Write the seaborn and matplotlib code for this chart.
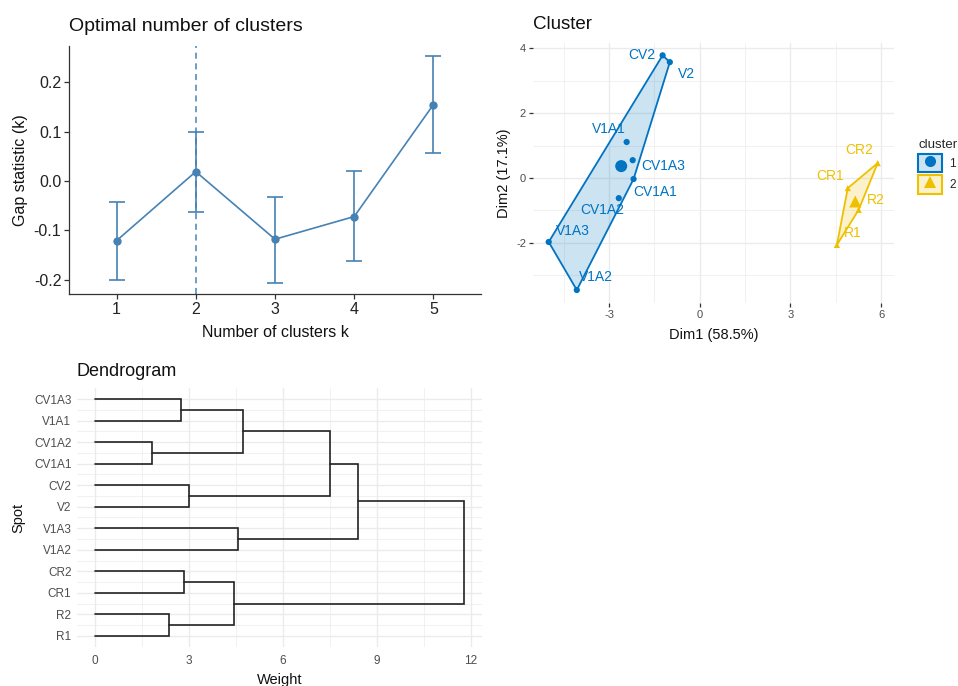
import numpy as np
import pandas as pd
import seaborn as sns
import matplotlib
matplotlib.use("Agg")
import matplotlib.pyplot as plt
from matplotlib.patches import Polygon, Patch
from matplotlib.lines import Line2D
from matplotlib.legend_handler import HandlerTuple

# ---------------- data ----------------
# Gap statistic panel
k_values = [1, 2, 3, 4, 5]
gap_values = [-0.121, 0.019, -0.118, -0.072, 0.155]
gap_lower = [-0.200, -0.062, -0.207, -0.163, 0.057]
gap_upper = [-0.043, 0.099, -0.032, 0.020, 0.253]
optimal_k = 2
gap_yticks = [-0.2, -0.1, 0.0, 0.1, 0.2]

# Cluster panel (PCA coordinates)
spots = ["CV2", "V2", "V1A1", "CV1A3", "CV1A1", "CV1A2", "V1A3", "V1A2",
         "CR2", "CR1", "R2", "R1"]
dim1 = [-1.23, -0.99, -2.42, -2.22, -2.19, -2.68, -5.00, -4.07,
        5.89, 4.90, 5.26, 4.54]
dim2 = [3.78, 3.57, 1.11, 0.55, -0.03, -0.62, -1.97, -3.45,
        0.46, -0.31, -0.98, -2.06]
cluster = ["1", "1", "1", "1", "1", "1", "1", "1", "2", "2", "2", "2"]
dim1_ticks = [-3, 0, 3, 6]
dim2_ticks = [-2, 0, 2, 4]

# Dendrogram panel
leaf_order = ["CV1A3", "V1A1", "CV1A2", "CV1A1", "CV2", "V2", "V1A3", "V1A2",
              "CR2", "CR1", "R2", "R1"]
merge_left = ["CV1A3", "CV1A2", "m1", "CV2", "m3", "V1A3", "m5", "CR2", "R2", "m8", "m7"]
merge_right = ["V1A1", "CV1A1", "m2", "V2", "m4", "V1A2", "m6", "CR1", "R1", "m9", "m10"]
merge_height = [2.73, 1.83, 4.71, 3.00, 7.49, 4.57, 8.39, 2.83, 2.37, 4.45, 11.77]
weight_ticks = [0, 3, 6, 9, 12]

# ---------------- style ----------------
sns.set_theme(style="white")
plt.rcParams["font.family"] = ["Liberation Sans", "DejaVu Sans"]
plt.rcParams["axes.unicode_minus"] = False

GAP_COLOR = "#4682B4"
CL_COLORS = {"1": "#0073C2", "2": "#EFC000"}
CL_MARKERS = {"1": "o", "2": "^"}
GRID_MAJ = "#EBEBEB"
TICK_TXT = "#4D4D4D"

# label offsets in pixels (dx, dy) relative to each point
label_offsets = {
    "CV2": (-21, 0), "V2": (17, -12), "V1A1": (-18, 13), "CV1A3": (30, -6),
    "CV1A1": (22, -13), "CV1A2": (-17, -12), "V1A3": (24, 11), "V1A2": (19, 13),
    "CR2": (-18, 13), "CR1": (-18, 12), "R2": (17, 10), "R1": (16, 12),
}

W, H = 958, 686
fig = plt.figure(figsize=(W / 100, H / 100), dpi=100)
fig.patch.set_facecolor("white")


def ax_px(l, t, r, b):
    return fig.add_axes([l / W, 1 - b / H, (r - l) / W, (b - t) / H])


def minimal_grid(ax, xmaj, xmin, ymaj, ymin):
    for v in xmaj:
        ax.axvline(v, color=GRID_MAJ, lw=1.0, zorder=0)
    for v in xmin:
        ax.axvline(v, color=GRID_MAJ, lw=0.5, zorder=0)
    for v in ymaj:
        ax.axhline(v, color=GRID_MAJ, lw=1.0, zorder=0)
    for v in ymin:
        ax.axhline(v, color=GRID_MAJ, lw=0.5, zorder=0)
    for s in ax.spines.values():
        s.set_visible(False)


# ---------------- panel 1: gap statistic ----------------
ax1 = ax_px(69, 46, 481, 294)
gdf = pd.DataFrame({"k": k_values, "gap": gap_values,
                    "lo": gap_lower, "hi": gap_upper})
ax1.axvline(optimal_k, color=GAP_COLOR, lw=1.1, ls=(0, (4, 3)), zorder=1)
ax1.errorbar(gdf["k"], gdf["gap"],
             yerr=[gdf["gap"] - gdf["lo"], gdf["hi"] - gdf["gap"]],
             fmt="none", ecolor=GAP_COLOR, elinewidth=1.2, capsize=5.8,
             capthick=1.2, zorder=2)
sns.lineplot(data=gdf, x="k", y="gap", ax=ax1, color=GAP_COLOR, lw=1.2,
             marker="o", markersize=6, markeredgewidth=0, zorder=3)
ax1.set_xlim(0.4, 5.6)
ax1.set_ylim(-0.229, 0.2736)
ax1.set_xticks(k_values)
ax1.set_xticklabels([str(k) for k in k_values])
ax1.set_yticks(gap_yticks)
ax1.set_yticklabels([f"{v:.1f}" for v in gap_yticks])
for s in ["top", "right"]:
    ax1.spines[s].set_visible(False)
for s in ["left", "bottom"]:
    ax1.spines[s].set_color("#333333")
    ax1.spines[s].set_linewidth(0.9)
ax1.tick_params(axis="both", length=3.5, width=0.9, color="#333333",
                labelsize=11.5, labelcolor="#222222", pad=2, direction="out",
                bottom=True, left=True)
ax1.set_xlabel("Number of clusters k", fontsize=11.5, color="#111111")
ax1.set_ylabel("Gap statistic (k)", fontsize=11.5, color="#111111")
ax1.xaxis.set_label_coords(0.5, -0.125)
ax1.yaxis.set_label_coords(-0.10, 0.5)
ax1.set_title("Optimal number of clusters", loc="left", fontsize=14,
              color="#111111", pad=11)

# ---------------- panel 2: cluster plot ----------------
ax2 = ax_px(533, 43, 894, 303)
xlo, xhi = -5.52, 6.43
ylo, yhi = -3.85, 4.16
minimal_grid(ax2, dim1_ticks, [-4.5, -1.5, 1.5, 4.5],
             dim2_ticks, [-3, -1, 1, 3])
cdf = pd.DataFrame({"spot": spots, "Dim1": dim1, "Dim2": dim2,
                    "cluster": cluster})


def convex_hull(pts):
    pts = sorted(set(pts))
    if len(pts) <= 2:
        return pts

    def cross(o, a, b):
        return (a[0] - o[0]) * (b[1] - o[1]) - (a[1] - o[1]) * (b[0] - o[0])
    lower, upper = [], []
    for p in pts:
        while len(lower) >= 2 and cross(lower[-2], lower[-1], p) <= 0:
            lower.pop()
        lower.append(p)
    for p in reversed(pts):
        while len(upper) >= 2 and cross(upper[-2], upper[-1], p) <= 0:
            upper.pop()
        upper.append(p)
    return lower[:-1] + upper[:-1]


for cl, sub in cdf.groupby("cluster"):
    col = CL_COLORS[cl]
    hull = convex_hull(list(zip(sub["Dim1"], sub["Dim2"])))
    ax2.add_patch(Polygon(hull, closed=True, facecolor=col, alpha=0.2,
                          edgecolor="none", zorder=1))
    ax2.add_patch(Polygon(hull, closed=True, facecolor="none",
                          edgecolor=col, lw=1.3, zorder=2))
    # centroid
    ax2.scatter([sub["Dim1"].mean()], [sub["Dim2"].mean()], s=75,
                marker=CL_MARKERS[cl], color=col, edgecolor="none", zorder=4)

sns.scatterplot(data=cdf, x="Dim1", y="Dim2", hue="cluster", style="cluster",
                palette=CL_COLORS, markers=CL_MARKERS, s=20, edgecolor="none",
                ax=ax2, legend=False, zorder=3)
for _, r in cdf.iterrows():
    dx, dy = label_offsets[r["spot"]]
    ax2.annotate(r["spot"], (r["Dim1"], r["Dim2"]), xytext=(dx, dy),
                 textcoords="offset pixels", ha="center", va="center",
                 fontsize=10, color=CL_COLORS[r["cluster"]], zorder=5)

ax2.set_xlim(xlo, xhi)
ax2.set_ylim(ylo, yhi)
ax2.set_xticks(dim1_ticks)
ax2.set_yticks(dim2_ticks)
ax2.tick_params(axis="both", length=3, width=0.9, color="#333333",
                labelsize=8, labelcolor=TICK_TXT, pad=2,
                bottom=True, left=True)
ax2.set_xlabel("Dim1 (58.5%)", fontsize=10.5, color="#111111")
ax2.set_ylabel("Dim2 (17.1%)", fontsize=10.5, color="#111111")
ax2.xaxis.set_label_coords(0.5, -0.095)
ax2.yaxis.set_label_coords(-0.06, 0.5)
ax2.set_title("Cluster", loc="left", fontsize=13.5, color="#111111", pad=10)

handles = []
for cl in ["1", "2"]:
    col = CL_COLORS[cl]
    box = Patch(facecolor=matplotlib.colors.to_rgba(col, 0.2), edgecolor=col, lw=1.5)
    mk = Line2D([], [], marker=CL_MARKERS[cl], color=col, ls="none",
                markersize=8, markeredgewidth=0)
    handles.append((box, mk))
leg = fig.legend(handles, ["1", "2"], title="cluster",
                 handler_map={tuple: HandlerTuple(ndivide=1)},
                 loc="upper left", bbox_to_anchor=(910 / W, 1 - 131 / H),
                 frameon=False, fontsize=8.5, title_fontsize=9.5,
                 handlelength=2.0, handleheight=2.0, labelspacing=0.25,
                 handletextpad=0.6, borderpad=0.2)
leg._legend_box.align = "left"

# ---------------- panel 3: dendrogram ----------------
ax3 = ax_px(77, 388, 482, 647)
n_leaves = len(leaf_order)
minimal_grid(ax3, weight_ticks, [1.5, 4.5, 7.5, 10.5],
             list(range(1, n_leaves + 1)),
             [i + 0.5 for i in range(1, n_leaves)])

node_x = {name: 0.0 for name in leaf_order}
node_y = {name: n_leaves - i for i, name in enumerate(leaf_order)}
for i, (a, b, h) in enumerate(zip(merge_left, merge_right, merge_height)):
    ya, yb = node_y[a], node_y[b]
    ax3.plot([node_x[a], h, h, node_x[b]], [ya, ya, yb, yb],
             color="#222222", lw=1.2, solid_joinstyle="miter", zorder=3)
    name = f"m{i + 1}"
    node_x[name] = h
    node_y[name] = (ya + yb) / 2

ax3.set_xlim(-0.575, 12.35)
ax3.set_ylim(0.48, n_leaves + 0.52)
ax3.set_xticks(weight_ticks)
ax3.set_yticks([node_y[n] for n in leaf_order])
ax3.set_yticklabels(leaf_order)
ax3.tick_params(axis="x", length=0, labelsize=8.5, labelcolor=TICK_TXT, pad=6)
ax3.tick_params(axis="y", length=0, labelsize=8.5, labelcolor=TICK_TXT, pad=4)
ax3.set_xlabel("Weight", fontsize=10.5, color="#111111")
ax3.set_ylabel("Spot", fontsize=10.5, color="#111111")
ax3.xaxis.set_label_coords(0.5, -0.10)
ax3.yaxis.set_label_coords(-0.128, 0.5)
ax3.set_title("Dendrogram", loc="left", fontsize=13, color="#111111", pad=9)

fig.savefig("out.png", dpi=100, facecolor="white")
